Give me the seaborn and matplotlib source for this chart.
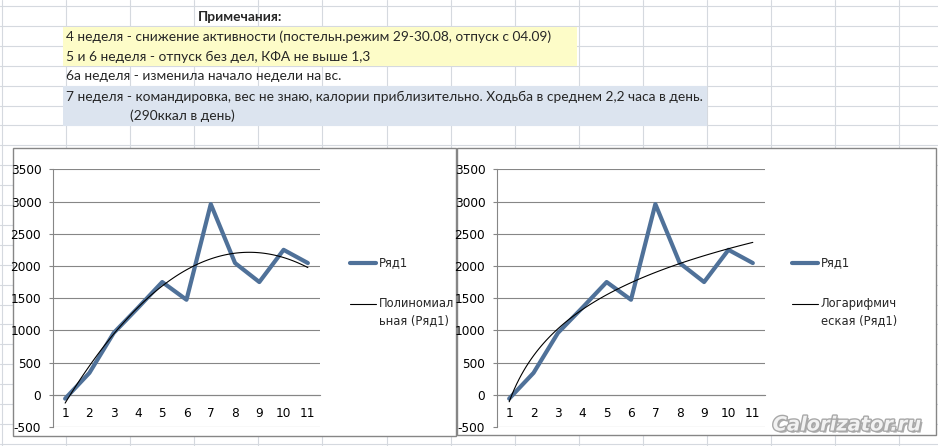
import numpy as np
import pandas as pd
import matplotlib
matplotlib.use("Agg")
import matplotlib.pyplot as plt
import matplotlib.patheffects as pe
from matplotlib.lines import Line2D
from matplotlib.patches import Rectangle
import seaborn as sns

# ---------------- data ----------------
weeks = [1, 2, 3, 4, 5, 6, 7, 8, 9, 10, 11]
calories = [-60, 340, 960, 1350, 1750, 1475, 2960, 2045, 1750, 2250, 2045]
y_ticks = [-500, 0, 500, 1000, 1500, 2000, 2500, 3000, 3500]
series_name = "Ряд1"
poly_label = "Полиномиал\nьная (Ряд1)"
log_label = "Логарифмич\nеская (Ряд1)"
notes_title = "Примечания:"
notes = [
    "4 неделя - снижение активности (постельн.режим 29-30.08, отпуск с 04.09)",
    "5 и 6 неделя - отпуск без дел, КФА не выше 1,3",
    "6а неделя - изменила начало недели на вс.",
    "7 неделя - командировка, вес не знаю, калории приблизительно. Ходьба в среднем 2,2 часа в день.",
    "(290ккал в день)",
]
watermark = "Calorizator.ru"

# ---------------- style ----------------
sns.set_style("white")
plt.rcParams["font.family"] = ["DejaVu Sans"]

W, H = 938, 446
fig = plt.figure(figsize=(W / 100, H / 100), dpi=100)
fig.patch.set_facecolor("white")

BLUE = "#4F7199"
GRAY = "#868686"
CELL = "#D5D9DF"
FS = 8.7
LFS = 8.3


def fx(x):
    return x / W


def fy(y):
    return 1 - y / H


# ---------------- spreadsheet background ----------------
bg = fig.add_axes([0, 0, 1, 1])
bg.set_xlim(0, W)
bg.set_ylim(H, 0)
bg.axis("off")

col_lines = [2] + [66 + 64.1 * k for k in range(14)]
row_lines = [6 + 19.9 * k for k in range(23)]
for x in col_lines:
    bg.plot([x, x], [0, H], color=CELL, lw=0.8, zorder=0)
for y in row_lines:
    bg.plot([0, W], [y, y], color=CELL, lw=0.8, zorder=0)

# highlighted note rows
bg.add_patch(Rectangle((63, 26.5), 514, 39.5, facecolor="#FDFCC8", edgecolor="none", zorder=1))
bg.add_patch(Rectangle((63, 86), 644, 39.5, facecolor="#DCE4EF", edgecolor="none", zorder=1))

# notes text (fit size to measured width of longest row)
note_font = "Lato"
tmp = bg.text(0, 0, notes[3], fontsize=10, family=note_font)
fig.canvas.draw()
wpx = tmp.get_window_extent().width
tmp.remove()
note_size = 10 * 634 / wpx

bg.text(240, 17, notes_title, fontsize=note_size, family=note_font, weight="bold",
        ha="center", va="center", zorder=3)
note_pos = [(66, 37), (66, 57), (66, 76.5), (66, 96.5), (130, 116)]
for (x, y), t in zip(note_pos, notes):
    bg.text(x, y, t, fontsize=note_size, family=note_font, ha="left", va="center", zorder=3)

# chart frames
bg.add_patch(Rectangle((13, 148), 443, 288, facecolor="white", edgecolor=GRAY, lw=1.0, zorder=2))
bg.add_patch(Rectangle((456.5, 148), 479.5, 287, facecolor="white", edgecolor=GRAY, lw=1.0, zorder=2))

df = pd.DataFrame({"week": weeks, "kcal": calories})


def make_chart(left, right, trend_kw, trend_label, leg_x):
    top, bottom = 169.3, 427.0
    ax = fig.add_axes([fx(left), fy(bottom), (right - left) / W, (bottom - top) / H])
    ax.set_facecolor("none")
    sns.lineplot(data=df, x="week", y="kcal", ax=ax, color=BLUE, lw=3.0,
                 zorder=3, legend=False)
    sns.regplot(data=df, x="week", y="kcal", ax=ax, scatter=False, ci=None,
                line_kws=dict(color="black", lw=0.8, zorder=4), **trend_kw)
    ax.set_xlim(0.5, 11.5)
    ax.set_ylim(-500, 3500)
    ax.set_xlabel("")
    ax.set_ylabel("")
    ax.set_yticks(y_ticks)
    ax.set_yticklabels([str(v) for v in y_ticks])
    ax.yaxis.grid(True, color=GRAY, lw=0.8)
    ax.xaxis.grid(False)
    ax.set_axisbelow(True)
    for s in ("top", "right"):
        ax.spines[s].set_visible(False)
    ax.spines["left"].set_color(GRAY)
    ax.spines["left"].set_linewidth(0.8)
    ax.spines["bottom"].set_position(("data", 0))
    ax.spines["bottom"].set_color(GRAY)
    ax.spines["bottom"].set_linewidth(0.8)
    ax.set_xticks(weeks)
    ax.set_xticklabels([str(w) for w in weeks])
    ax.set_xticks([w + 0.5 for w in [0] + weeks], minor=True)
    ax.tick_params(axis="x", which="major", length=0, pad=8.5, labelsize=FS,
                   labelcolor="black")
    ax.tick_params(axis="x", which="minor", length=3.5, width=0.8, color=GRAY,
                   direction="out")
    ax.tick_params(axis="y", which="major", length=3, width=0.8, color=GRAY,
                   pad=5.5, labelsize=FS, labelcolor="black", left=True)

    # legend (drawn in pixel coordinates of the background)
    bg.add_line(Line2D([leg_x, leg_x + 26], [263, 263], color=BLUE, lw=3.0, zorder=5))
    bg.text(leg_x + 29, 263, series_name, fontsize=LFS, ha="left", va="center", zorder=5)
    bg.add_line(Line2D([leg_x, leg_x + 26], [304, 304], color="black", lw=0.8, zorder=5))
    bg.text(leg_x + 29, 297, trend_label, fontsize=LFS, ha="left", va="top",
            linespacing=1.45, zorder=5)
    return ax


make_chart(53, 320, dict(order=2), poly_label, 350)
make_chart(497, 765, dict(logx=True), log_label, 792)

fig.text(fx(847), fy(425), watermark, fontsize=14, weight="bold", style="italic",
         color="#F2F2F2", ha="center", va="center", zorder=10,
         path_effects=[pe.withSimplePatchShadow(offset=(1.5, -1.5), shadow_rgbFace="#8A8A8A", alpha=0.7),
                       pe.withStroke(linewidth=2.0, foreground="#A8A8A8")])

fig.savefig("out.png", dpi=100)
